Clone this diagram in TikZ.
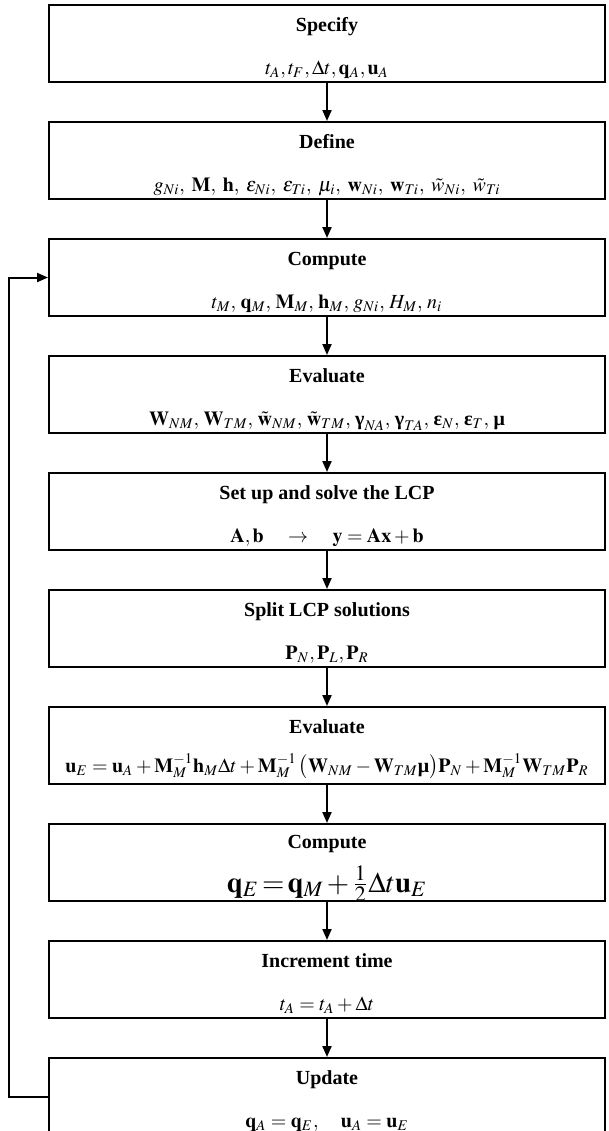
\documentclass[tikz,border=0pt]{standalone}
\usepackage{amsmath}
\usepackage{mathptmx}
\usepackage[no-math]{fontspec}
\setmainfont{Liberation Serif}
\usetikzlibrary{positioning,arrows.meta}

\newcommand{\boldgreek}[1]{\text{\bfseries #1}}

\tikzset{
  stepbox/.style={draw, line width=1pt, minimum width=278pt, minimum height=38.5pt, inner sep=0pt},
  steptitle/.style={anchor=base, inner sep=0pt, font=\bfseries},
  stepeq/.style={anchor=base, inner sep=0pt},
  flow/.style={->, line width=1pt}
}

\begin{document}
\begin{tikzpicture}[node distance=19pt, >={Triangle[length=5.5pt,width=4.5pt]}]
    \useasboundingbox (0,0) rectangle (304.5pt,-565.5pt);

    \node[stepbox] (specify) at (163.5pt,-21.75pt) {};
    \node[stepbox, below=of specify] (define) {};
    \node[stepbox, below=of define] (compute) {};
    \node[stepbox, below=of compute] (evaluate) {};
    \node[stepbox, below=of evaluate] (lcp) {};
    \node[stepbox, below=of lcp] (split) {};
    \node[stepbox, below=of split] (velocity) {};
    \node[stepbox, below=of velocity] (position) {};
    \node[stepbox, below=of position] (increment) {};
    \node[stepbox, below=of increment] (update) {};

    \node[steptitle] (specifyT) at ([yshift=-13.5pt]specify.north) {Specify};
    \node[stepeq] (specifyE) at ([yshift=-35pt]specify.north)
        {$t_A, t_F, \Delta t, \mathbf{q}_A, \mathbf{u}_A$};

    \node[steptitle] (defineT) at ([yshift=-13.5pt]define.north) {Define};
    \node[stepeq] (defineE) at ([yshift=-35pt]define.north)
        {$g_{Ni},\; \mathbf{M},\; \mathbf{h},\; \varepsilon_{Ni},\; \varepsilon_{Ti},\; \mu_i,\; \mathbf{w}_{Ni},\; \mathbf{w}_{Ti},\; \tilde{w}_{Ni},\; \tilde{w}_{Ti}$};

    \node[steptitle] (computeT) at ([yshift=-13.5pt]compute.north) {Compute};
    \node[stepeq] (computeE) at ([yshift=-35pt]compute.north)
        {$t_M,\, \mathbf{q}_M,\, \mathbf{M}_M,\, \mathbf{h}_M,\, g_{Ni},\, H_M,\, n_i$};

    \node[steptitle] (evaluateT) at ([yshift=-13.5pt]evaluate.north) {Evaluate};
    \node[stepeq] (evaluateE) at ([yshift=-35pt]evaluate.north)
        {$\mathbf{W}_{NM},\, \mathbf{W}_{TM},\, \tilde{\mathbf{w}}_{NM},\, \tilde{\mathbf{w}}_{TM},\, \boldgreek{γ}_{NA},\, \boldgreek{γ}_{TA},\, \boldgreek{ε}_N,\, \boldgreek{ε}_T,\, \boldgreek{μ}$};

    \node[steptitle] (lcpT) at ([yshift=-13.5pt]lcp.north) {Set up and solve the LCP};
    \node[stepeq] (lcpE) at ([yshift=-35pt]lcp.north)
        {$\mathbf{A}, \mathbf{b} \quad\rightarrow\quad \mathbf{y} = \mathbf{A}\mathbf{x} + \mathbf{b}$};

    \node[steptitle] (splitT) at ([yshift=-13.5pt]split.north) {Split LCP solutions};
    \node[stepeq] (splitE) at ([yshift=-35pt]split.north)
        {$\mathbf{P}_N, \mathbf{P}_L, \mathbf{P}_R$};

    \node[steptitle] (velocityT) at ([yshift=-13.5pt]velocity.north) {Evaluate};
    \node[stepeq] (velocityE) at ([yshift=-33pt]velocity.north)
        {$\mathbf{u}_E = \mathbf{u}_A + \mathbf{M}_M^{-1}\mathbf{h}_M\Delta t + \mathbf{M}_M^{-1}\,\bigl(\mathbf{W}_{NM} - \mathbf{W}_{TM}\boldgreek{μ}\bigr)\mathbf{P}_N + \mathbf{M}_M^{-1}\mathbf{W}_{TM}\mathbf{P}_R$};

    \node[steptitle] (positionT) at ([yshift=-12.5pt]position.north) {Compute};
    \node[stepeq, font=\Large] (positionE) at ([yshift=-34.5pt]position.north)
        {\thickmuskip=2mu \medmuskip=2mu $\mathbf{q}_E = \mathbf{q}_M + \tfrac{1}{2}\Delta t\mathbf{u}_E$};

    \node[steptitle] (incrementT) at ([yshift=-13.5pt]increment.north) {Increment time};
    \node[stepeq] (incrementE) at ([yshift=-35pt]increment.north)
        {$t_A = t_A + \Delta t$};

    \node[steptitle] (updateT) at ([yshift=-13.5pt]update.north) {Update};
    \node[stepeq] (updateE) at ([yshift=-35pt]update.north)
        {$\mathbf{q}_A = \mathbf{q}_E, \quad \mathbf{u}_A = \mathbf{u}_E$};

    \draw[flow] (specify) -- (define);
    \draw[flow] (define) -- (compute);
    \draw[flow] (compute) -- (evaluate);
    \draw[flow] (evaluate) -- (lcp);
    \draw[flow] (lcp) -- (split);
    \draw[flow] (split) -- (velocity);
    \draw[flow] (velocity) -- (position);
    \draw[flow] (position) -- (increment);
    \draw[flow] (increment) -- (update);
    \draw[flow] (update.west) -- ++(-19.5pt,0) |- (compute.west);
\end{tikzpicture}
\end{document}
